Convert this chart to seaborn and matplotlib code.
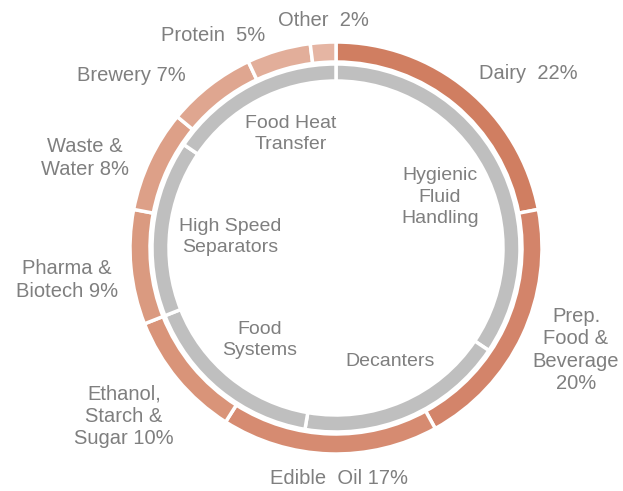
import seaborn as sns
import matplotlib.pyplot as plt

sns.set_style('white')
plt.rcParams['font.family'] = ['Liberation Sans', 'DejaVu Sans']

# outer ring: industries (share of sales, %)
industries = ['Dairy  22%', 'Prep.\nFood &\nBeverage\n20%', 'Edible  Oil 17%',
              'Ethanol,\nStarch &\nSugar 10%', 'Pharma &\nBiotech 9%',
              'Waste &\nWater 8%', 'Brewery 7%', 'Protein  5%', 'Other  2%']
industry_share = [22, 20, 17, 10, 9, 8, 7, 5, 2]

# inner ring: product groups
products = ['Hygienic\nFluid\nHandling', 'Decanters', 'Food\nSystems',
            'High Speed\nSeparators', 'Food Heat\nTransfer']
product_share = [34.4, 18.3, 16.3, 15.5, 15.5]

outer_colors = ['#D07E61', '#D3846A', '#D68B71', '#D99479', '#DA9A80',
                '#DDA088', '#DFA690', '#E2AE9A', '#E5B5A3']
inner_color = '#BFBFBF'
text_color = '#7F7F7F'

# label positions in pixels (x, y from top)
outer_pos = [(528, 73), (576, 350), (339, 478), (124, 416), (67, 280),
             (85, 158), (131, 75), (213, 35), (323, 20)]
inner_pos = [(440, 197), (390, 362), (260, 340), (230, 237), (291, 134)]

W, H = 623, 491
fig = plt.figure(figsize=(W / 100, H / 100), dpi=100)
ax = fig.add_axes([0, 0, 1, 1])
cx, cy = 336, H - 248

ax.pie(industry_share, colors=outer_colors, radius=206, center=(cx, cy),
       startangle=90, counterclock=False,
       wedgeprops=dict(width=20, edgecolor='white', linewidth=2.5))
ax.pie(product_share, colors=[inner_color] * len(product_share), radius=184,
       center=(cx, cy), startangle=90, counterclock=False,
       wedgeprops=dict(width=17, edgecolor='white', linewidth=2.5))

for lab, (x, y) in zip(industries, outer_pos):
    ax.text(x, H - y, lab, ha='center', va='center', fontsize=14.5,
            color=text_color, linespacing=1.22)
for lab, (x, y) in zip(products, inner_pos):
    ax.text(x, H - y, lab, ha='center', va='center', fontsize=14,
            color=text_color, linespacing=1.32)

ax.set_xlim(0, W)
ax.set_ylim(0, H)
ax.set_aspect('equal')
ax.axis('off')
fig.savefig('out.png', dpi=100, facecolor='white')
